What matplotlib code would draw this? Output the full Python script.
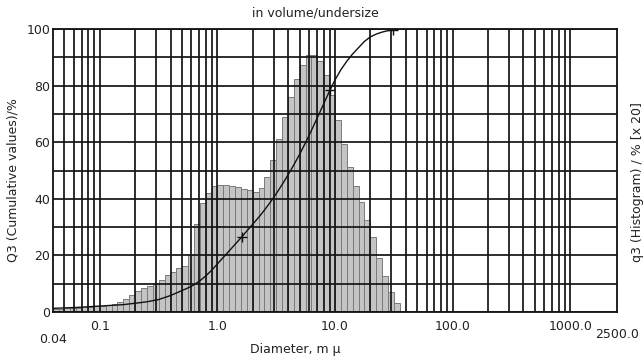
import matplotlib
matplotlib.use('Agg')
import matplotlib.pyplot as plt
from matplotlib.ticker import NullFormatter

# channel edges (um) and q3 histogram values (% x 20)
edges = [0.040, 0.045, 0.050, 0.056, 0.063, 0.071, 0.079, 0.089, 0.100, 0.112,
         0.126, 0.141, 0.158, 0.178, 0.200, 0.224, 0.251, 0.282, 0.316, 0.355,
         0.398, 0.447, 0.501, 0.562, 0.631, 0.708, 0.794, 0.891, 1.000, 1.122,
         1.259, 1.413, 1.585, 1.778, 1.995, 2.239, 2.512, 2.818, 3.162, 3.548,
         3.981, 4.467, 5.012, 5.623, 6.310, 7.079, 7.943, 8.913, 10.00, 11.22,
         12.59, 14.13, 15.85, 17.78, 19.95, 22.39, 25.12, 28.18, 31.62, 35.48]
q3_hist = [1.2, 1.2, 1.3, 1.4, 1.5, 1.6, 1.8, 2.0, 2.2, 2.4,
           2.7, 3.6, 4.5, 6.0, 7.5, 8.4, 9.2, 10.1,
           11.2, 13.0, 14.3, 15.5, 16.3, 20.0,
           31.0, 38.5, 42.0, 44.5,
           45.0, 44.8, 44.5, 44.0, 43.5,
           43.0, 42.3, 43.7, 47.8, 53.7, 61.0, 69.0, 76.0, 82.2, 87.3,
           90.8, 90.8, 88.8, 83.7, 76.7, 67.8, 59.4, 51.3, 44.4, 39.0,
           32.5, 26.6, 19.0, 12.7, 7.2, 3.3]

# cumulative Q3 curve (undersize, %)
cum_d = [0.040, 0.063, 0.100, 0.158, 0.200, 0.251, 0.316, 0.398, 0.501, 0.562,
         0.631, 0.708, 0.794, 0.891, 1.000, 1.122, 1.259, 1.413, 1.585, 1.778,
         1.995, 2.239, 2.512, 2.818, 3.162, 3.548, 3.981, 4.467, 5.012, 5.623,
         6.310, 7.079, 7.943, 8.913, 10.00, 11.22, 12.59, 14.13, 15.85, 17.78,
         19.95, 22.39, 25.12, 28.18, 31.62, 35.48]
cum_q = [1.3, 1.6, 2.1, 2.6, 3.1, 3.6, 4.4, 5.8, 7.6, 8.5,
         9.6, 11.0, 12.7, 14.7, 17.0, 19.3, 21.6, 23.9, 26.2, 28.6,
         31.0, 33.4, 36.0, 38.8, 41.8, 45.0, 48.4, 52.0, 55.8, 59.9,
         64.2, 68.7, 73.2, 77.8, 82.0, 85.6, 88.6, 91.2, 93.4, 95.6,
         97.2, 98.2, 98.9, 99.4, 99.7, 100.0]

cursor_d = [1.61, 9.06, 31.3]
cursor_q = [26.6, 78.4, 99.6]

major_x = [0.1, 1.0, 10.0, 100.0, 1000.0]
major_lbl = ['0.1', '1.0', '10.0', '100.0', '1000.0']
minor_x = [m * 10.0 ** e for e in range(-2, 3) for m in range(2, 10)
           if 0.04 < m * 10.0 ** e < 1000]
y_lbl = [0, 20, 40, 60, 80, 100]

plt.rcParams['font.family'] = 'DejaVu Sans'
fig = plt.figure(figsize=(6.44, 3.62), dpi=100)
ax = fig.add_axes([0.0823, 0.1381, 0.8758, 0.7818])

widths = [edges[i + 1] - edges[i] for i in range(len(q3_hist))]
ax.bar(edges[:-1], q3_hist, width=widths, align='edge',
       color='#c4c4c4', edgecolor='#7a7a7a', linewidth=0.7, zorder=1)

ax.set_xscale('log')
ax.set_xlim(0.04, 2500)
ax.set_ylim(0, 100)

ax.set_xticks(major_x)
ax.set_xticklabels(major_lbl, fontsize=9, color='#222222')
ax.set_xticks(minor_x, minor=True)
ax.xaxis.set_minor_formatter(NullFormatter())
ax.set_yticks(range(0, 101, 10))
ax.set_yticklabels([str(v) if v in y_lbl else '' for v in range(0, 101, 10)],
                   fontsize=9, color='#222222')
ax.tick_params(axis='both', which='both', length=0)
ax.tick_params(axis='x', pad=6)
ax.tick_params(axis='y', pad=2)
ax.grid(True, which='both', color='#151515', linewidth=1.25, zorder=2)
ax.set_axisbelow(False)
for s in ax.spines.values():
    s.set_color('#111111')
    s.set_linewidth(1.3)

ax.plot(cum_d, cum_q, color='#111111', linewidth=1.0, zorder=4)
ax.plot(cursor_d, cursor_q, linestyle='none', marker='+', markersize=7,
        markeredgewidth=1.0, color='#111111', zorder=5)

# axis range end labels sit a little lower than the decade labels
ax.text(0.04, -0.075, '0.04', transform=ax.get_xaxis_transform(),
        ha='center', va='top', fontsize=9, color='#222222')
ax.text(2500, -0.055, '2500.0', transform=ax.get_xaxis_transform(),
        ha='center', va='top', fontsize=9, color='#222222')

fig.text(315 / 644, 1 - 13 / 362, 'in volume/undersize', ha='center',
         va='center', fontsize=9, color='#222222')
fig.text(295 / 644, 1 - 350 / 362, 'Diameter, m \u03bc', ha='center',
         va='center', fontsize=9, color='#222222')
fig.text(13 / 644, 1 - 180 / 362, 'Q3 (Cumulative values)/%', rotation=90,
         ha='center', va='center', fontsize=9, color='#222222')
fig.text(637 / 644, 1 - 182 / 362, 'q3 (Histogram) / % [x 20]', rotation=90,
         ha='center', va='center', fontsize=9, color='#222222')

fig.savefig('out.png', dpi=100)
